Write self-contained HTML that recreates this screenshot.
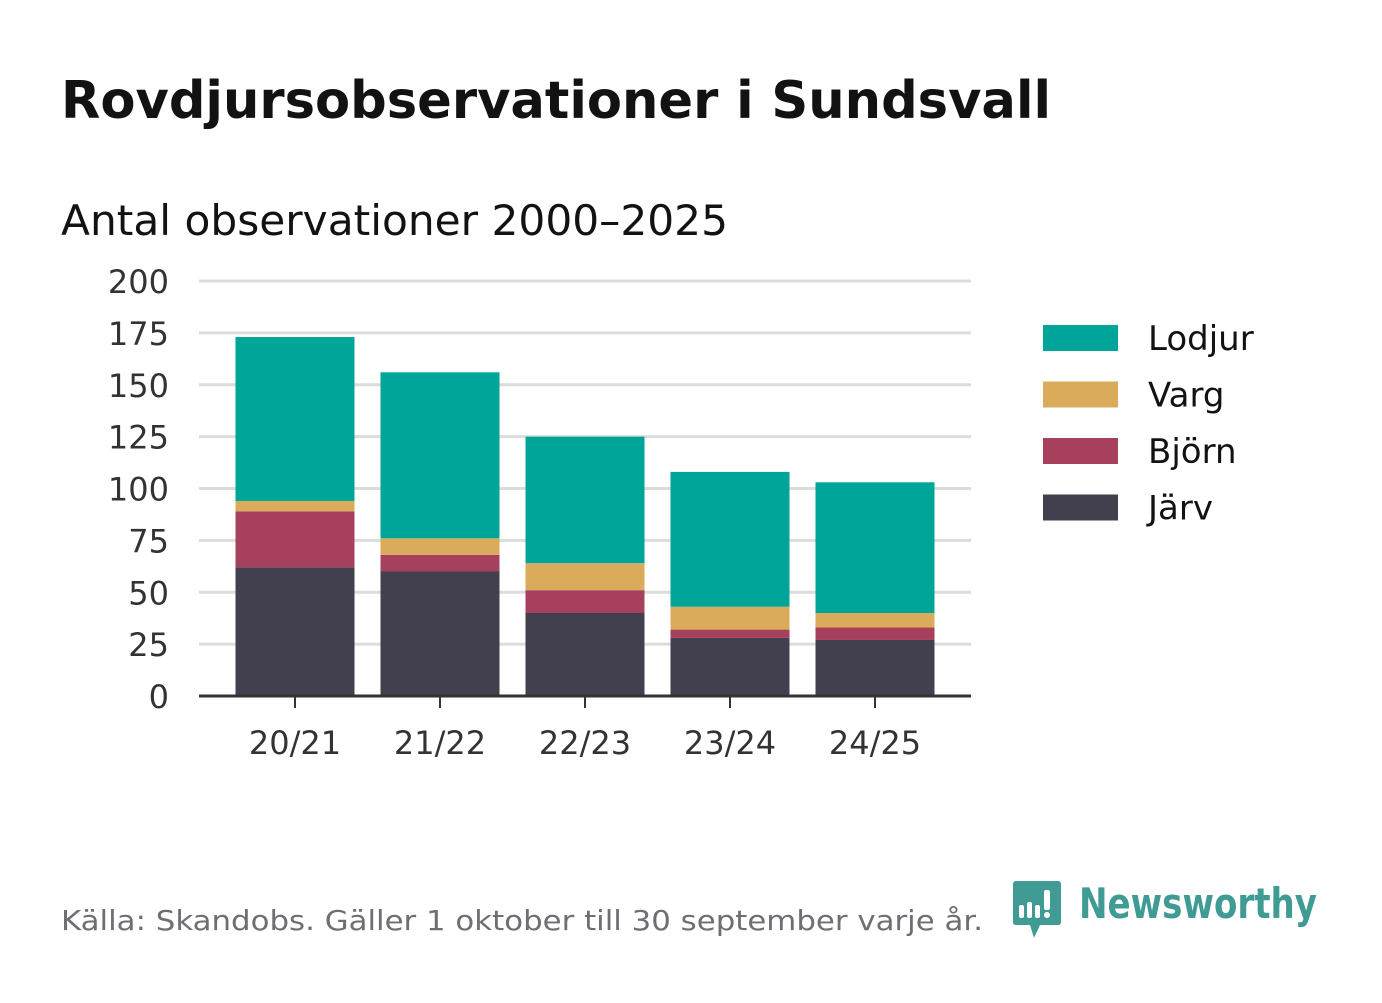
<!DOCTYPE html>
<html><head><meta charset="utf-8"><style>
body{margin:0;background:#fff;font-family:"DejaVu Sans","Liberation Sans",sans-serif;}
svg text{font-family:"DejaVu Sans","Liberation Sans",sans-serif;}
</style></head><body>
<svg id="chart" width="1382" height="999" xmlns="http://www.w3.org/2000/svg">
<rect width="1382" height="999" fill="#fff"/>
<text x="61" y="118" font-size="52" font-weight="bold" fill="#121212" textLength="990" lengthAdjust="spacingAndGlyphs">Rovdjursobservationer i Sundsvall</text>
<text x="61" y="235" font-size="42" fill="#121212" textLength="667" lengthAdjust="spacingAndGlyphs">Antal observationer 2000–2025</text>
<g id="grid"></g><g id="bars"></g><g id="axes"></g><g id="legend"></g>
<text x="61" y="930" font-size="28" fill="#6e6e73" textLength="922" lengthAdjust="spacingAndGlyphs">Källa: Skandobs. Gäller 1 oktober till 30 september varje år.</text>
<g>
<path d="M1016 881 H1058 Q1061 881 1061 884 V922 Q1061 925 1058 925 H1040 L1034 938 L1030 925 H1016 Q1013 925 1013 922 V884 Q1013 881 1016 881 Z" fill="#3f9b94"/>
<rect x="1019" y="905" width="5" height="13" rx="2" fill="#fff"/>
<rect x="1027" y="902" width="5" height="16" rx="2" fill="#fff"/>
<rect x="1035" y="905" width="5" height="13" rx="2" fill="#fff"/>
<rect x="1044" y="890" width="6" height="20" rx="2" fill="#fff"/>
<circle cx="1047" cy="915" r="3" fill="#fff"/>
<text x="1079" y="918" font-size="42" font-weight="bold" fill="#3f9b94" textLength="238" lengthAdjust="spacingAndGlyphs">Newsworthy</text>
</g>
</svg>
<script>
const categories=["20/21","21/22","22/23","23/24","24/25"];
const jarv=[62,60,40,28,27];
const bjorn=[27,8,11,4,6];
const varg=[5,8,13,11,7];
const lodjur=[79,80,61,65,63];
const yTicks=[0,25,50,75,100,125,150,175,200];
const seriesNames=["Järv","Björn","Varg","Lodjur"];
const series=[jarv,bjorn,varg,lodjur];
const colors=["#42404e","#a6405c","#dbab5c","#00a59a"];
const NS="http://www.w3.org/2000/svg";
const x0=199,x1=971,y0=696,y1=281,yMax=200;
const step=(x1-x0)/categories.length*0.9397;
const y=v=>y0-(v/yMax)*(y0-y1);
const xc=i=>295+i*145;
const bw=119;
function mk(tag,attrs,parent){const e=document.createElementNS(NS,tag);for(const k in attrs)e.setAttribute(k,attrs[k]);parent.appendChild(e);return e;}
const grid=document.getElementById('grid'),bars=document.getElementById('bars'),axes=document.getElementById('axes'),legend=document.getElementById('legend');
yTicks.forEach(t=>{
 if(t>0){const l=mk('line',{x1:x0,x2:x1,y1:y(t),y2:y(t),stroke:'#dcdcdc','stroke-width':3},grid);
 
 }
 const tx=mk('text',{x:169,y:y(t)+12,'font-size':32,'text-anchor':'end',fill:'#333'},axes);
 
 
 tx.textContent=t;
});
categories.forEach((c,i)=>{
 let acc=0;
 series.forEach((s,k)=>{
  const r=mk('rect',{x:xc(i)-bw/2,y:y(acc+s[i]),width:bw,height:y(acc)-y(acc+s[i]),fill:colors[k]},bars);
  
  
  acc+=s[i];
 });
 const tk=mk('line',{x1:xc(i),x2:xc(i),y1:y0,y2:y0+12,stroke:'#333','stroke-width':2},axes);
 
 
 const tl=mk('text',{x:xc(i),y:754,'font-size':32,'text-anchor':'middle',fill:'#333'},axes);
 
 
 tl.textContent=c;
});
const ax=mk('line',{x1:x0,x2:x1,y1:y0,y2:y0,stroke:'#333','stroke-width':3},axes);


[3,2,1,0].forEach((k,j)=>{
 const g=mk('g',{},legend);
 
 
 const yy=325+j*56.5;
 mk('rect',{x:1043,y:yy,width:75,height:26,fill:colors[k]},g);
 const t=mk('text',{x:1148,y:yy+25,'font-size':34,fill:'#121212'},g);
 t.textContent=seriesNames[k];
});
</script>
</body></html>
